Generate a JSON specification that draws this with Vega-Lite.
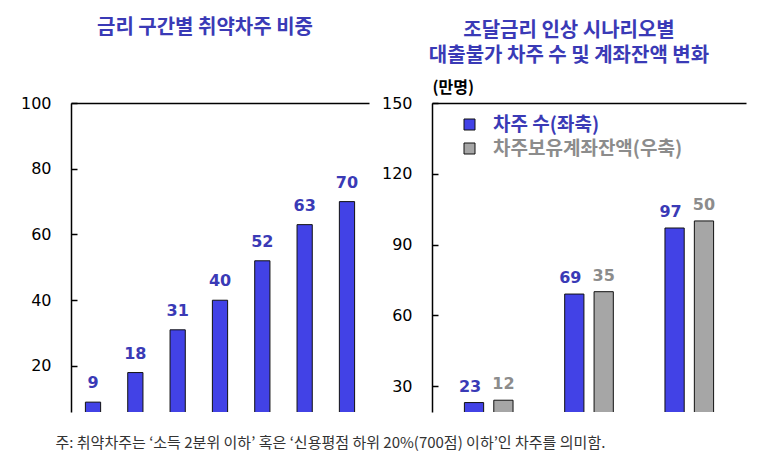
{
  "$schema": "https://vega.github.io/schema/vega-lite/v6.json",
  "padding": {"top": 18, "left": 20, "right": 4, "bottom": 2},
  "bounds": "flush",
  "spacing": 63,
  "resolve": {"scale": {"color": "independent"}, "legend": {"color": "independent"}},
  "title": {
    "text": "주: 취약차주는 ‘소득 2분위 이하’ 혹은 ‘신용평점 하위 20%(700점) 이하’인 차주를 의미함.",
    "orient": "bottom", "anchor": "start", "frame": "bounds",
    "font": "Noto Sans CJK KR", "fontSize": 15, "fontWeight": "normal", "color": "#333333",
    "offset": 24, "dx": 35
  },
  "config": {
    "font": "Noto Sans CJK KR",
    "view": {"stroke": null},
    "axis": {
      "domainColor": "#000000", "domainWidth": 1.5, "tickColor": "#000000", "tickWidth": 1.5,
      "labelFont": "DejaVu Sans", "labelFontSize": 16, "labelColor": "#000000", "grid": false
    }
  },
  "hconcat": [
    {
      "width": 298,
      "height": 309,
      "title": {
        "text": "금리 구간별 취약차주 비중", "frame": "group", "anchor": "middle", "baseline": "bottom",
        "offset": 37, "dx": -15, "font": "Noto Sans CJK KR", "fontSize": 20, "fontWeight": "bold", "color": "#3A3AB6"
      },
      "data": {"values": [
        {"구간": "1", "비중": 9},
        {"구간": "2", "비중": 18},
        {"구간": "3", "비중": 31},
        {"구간": "4", "비중": 40},
        {"구간": "5", "비중": 52},
        {"구간": "6", "비중": 63},
        {"구간": "7", "비중": 70}
      ]},
      "encoding": {
        "x": {"field": "구간", "type": "ordinal", "sort": null,
          "scale": {"paddingInner": 0.64, "paddingOuter": 0.34},
          "axis": {"orient": "top", "labels": false, "ticks": false, "title": null}},
        "y": {"field": "비중", "type": "quantitative",
          "scale": {"domain": [6, 100], "nice": false, "zero": false},
          "axis": {"values": [20, 40, 60, 80, 100], "title": null, "tickSize": -6, "labelPadding": 26}}
      },
      "layer": [
        {"mark": {"type": "bar", "fill": "#4242E6", "stroke": "#111111", "strokeWidth": 1, "clip": true}},
        {"mark": {"type": "text", "baseline": "alphabetic", "dy": -14, "font": "DejaVu Sans", "fontWeight": "bold", "fontSize": 16, "fill": "#3A3AB6"},
         "encoding": {"text": {"field": "비중", "type": "quantitative"}}}
      ]
    },
    {
      "width": 314,
      "height": 309,
      "title": {
        "text": ["조달금리 인상 시나리오별", "대출불가 차주 수 및 계좌잔액 변화"], "frame": "group", "anchor": "middle", "baseline": "bottom",
        "offset": -7, "dx": -20, "lineHeight": 25, "font": "Noto Sans CJK KR", "fontSize": 20, "fontWeight": "bold", "color": "#3A3AB6"
      },
      "data": {"values": [
        {"시나리오": "1", "구분": "차주 수(좌축)", "값": 23},
        {"시나리오": "1", "구분": "차주보유계좌잔액(우축)", "값": 12},
        {"시나리오": "2", "구분": "차주 수(좌축)", "값": 69},
        {"시나리오": "2", "구분": "차주보유계좌잔액(우축)", "값": 35},
        {"시나리오": "3", "구분": "차주 수(좌축)", "값": 97},
        {"시나리오": "3", "구분": "차주보유계좌잔액(우축)", "값": 50}
      ]},
      "encoding": {
        "x": {"field": "시나리오", "type": "nominal", "sort": null,
          "scale": {"paddingInner": 0.515, "paddingOuter": 0.323},
          "axis": {"orient": "top", "labels": false, "ticks": false, "title": null}},
        "xOffset": {"field": "구분", "type": "nominal",
          "scale": {"domain": ["차주 수(좌축)", "차주보유계좌잔액(우축)"], "paddingInner": 0.345, "paddingOuter": 0}}
      },
      "layer": [
        {
          "transform": [{"filter": "datum['구분'] === '차주 수(좌축)'"}],
          "encoding": {
            "y": {"field": "값", "type": "quantitative",
              "scale": {"domain": [19, 150], "nice": false, "zero": false},
              "axis": {"values": [30, 60, 90, 120, 150], "title": "(만명)", "titleAngle": 0, "titleAlign": "left", "titleBaseline": "bottom",
                "titleX": 0, "titleY": -8, "titleFont": "Noto Sans CJK KR", "titleFontSize": 16, "titleFontWeight": "bold", "titleColor": "#000000",
                "tickSize": -6, "labelPadding": 26}}
          },
          "layer": [
            {"mark": {"type": "bar", "stroke": "#111111", "strokeWidth": 1, "clip": true},
             "encoding": {"color": {"field": "구분", "type": "nominal",
               "scale": {"domain": ["차주 수(좌축)", "차주보유계좌잔액(우축)"], "range": ["#4242E6", "#A6A6A6"]},
               "legend": {"orient": "none", "legendX": 28, "legendY": 12, "title": null, "symbolType": "square", "symbolSize": 121,
                 "symbolStrokeColor": "#111111", "symbolStrokeWidth": 1, "labelFont": "Noto Sans CJK KR", "labelFontSize": 19, "labelFontWeight": "bold",
                 "labelOffset": 14, "rowPadding": 4, "labelLimit": 400,
                 "encode": {"labels": {"update": {"fill": {"signal": "datum.label === '차주 수(좌축)' ? '#3A3AB6' : '#8C8C8C'"}}}}}}}},
            {"mark": {"type": "text", "baseline": "alphabetic", "dy": -11, "dx": -4, "font": "DejaVu Sans", "fontWeight": "bold", "fontSize": 16, "fill": "#3A3AB6"},
             "encoding": {"text": {"field": "값", "type": "quantitative"}}}
          ]
        },
        {
          "transform": [{"filter": "datum['구분'] === '차주보유계좌잔액(우축)'"}],
          "encoding": {
            "y": {"field": "값", "type": "quantitative",
              "scale": {"domain": [9.5, 75], "nice": false, "zero": false}, "axis": null}
          },
          "layer": [
            {"mark": {"type": "bar", "stroke": "#111111", "strokeWidth": 1, "clip": true},
             "encoding": {"color": {"field": "구분", "type": "nominal",
               "scale": {"domain": ["차주 수(좌축)", "차주보유계좌잔액(우축)"], "range": ["#4242E6", "#A6A6A6"]},
               "legend": {"orient": "none", "legendX": 28, "legendY": 12, "title": null, "symbolType": "square", "symbolSize": 121,
                 "symbolStrokeColor": "#111111", "symbolStrokeWidth": 1, "labelFont": "Noto Sans CJK KR", "labelFontSize": 19, "labelFontWeight": "bold",
                 "labelOffset": 14, "rowPadding": 4, "labelLimit": 400,
                 "encode": {"labels": {"update": {"fill": {"signal": "datum.label === '차주 수(좌축)' ? '#3A3AB6' : '#8C8C8C'"}}}}}}}},
            {"mark": {"type": "text", "baseline": "alphabetic", "dy": -11, "font": "DejaVu Sans", "fontWeight": "bold", "fontSize": 16, "fill": "#8C8C8C"},
             "encoding": {"text": {"field": "값", "type": "quantitative"}}}
          ]
        }
      ],
      "resolve": {"scale": {"y": "independent"}}
    }
  ]
}
